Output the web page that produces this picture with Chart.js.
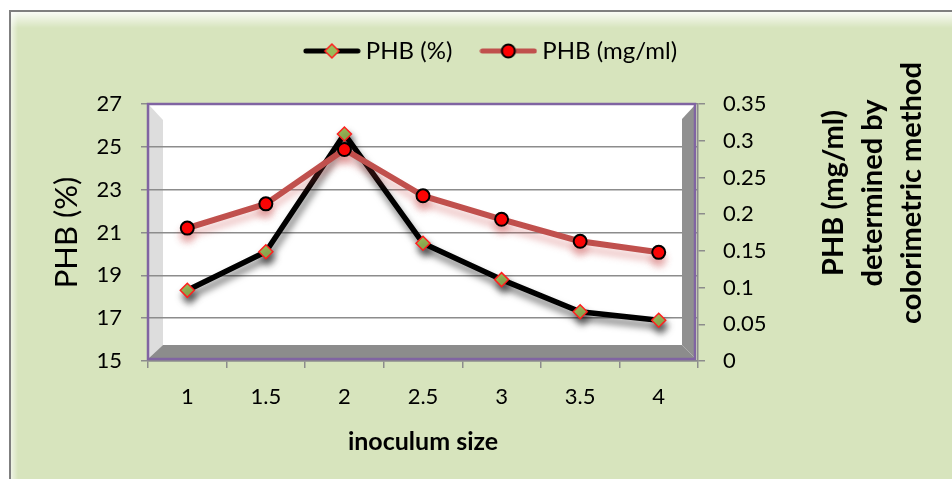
<!DOCTYPE html>
<html><head><meta charset="utf-8">
<script src="https://cdn.jsdelivr.net/npm/chart.js@4/dist/chart.umd.min.js"></script>
<style>html,body{margin:0;padding:0;background:#fff;}#wrap{width:952px;height:479px;}</style>
</head><body><div id="wrap"><canvas id="c" width="952" height="479"></canvas></div>
<script>
const categories = ['1','1.5','2','2.5','3','3.5','4'];
const phbPercent = [18.3, 20.1, 25.6, 20.5, 18.8, 17.3, 16.9];
const phbMgMl = [0.181, 0.214, 0.288, 0.225, 0.193, 0.163, 0.148];
const leftTicks = [15, 17, 19, 21, 23, 25, 27];
const rightTickValues = [0, 0.05, 0.1, 0.15, 0.2, 0.25, 0.3, 0.35];
const rightTickLabels = ['0', '0.05', '0.1', '0.15', '0.2', '0.25', '0.3', '0.35'];
const seriesNames = ['PHB (%)', 'PHB (mg/ml)'];
const xTitle = 'inoculum size';
const leftTitle = 'PHB (%)';
const rightTitle = ['PHB (mg/ml)', 'determined by', 'colorimetric method'];

const GRID = '#8c8c8c';
const FONT = 'Lato';

function legendIcon(kind) {
  const c = document.createElement('canvas');
  c.width = 58; c.height = 20;
  const g = c.getContext('2d');
  g.lineCap = 'round';
  g.lineWidth = 5;
  g.strokeStyle = kind === 0 ? '#000000' : '#C0504D';
  g.beginPath(); g.moveTo(3, 10); g.lineTo(55, 10); g.stroke();
  if (kind === 0) {
    g.beginPath(); g.moveTo(29 - 7, 10); g.lineTo(29, 3); g.lineTo(29 + 7, 10); g.lineTo(29, 17); g.closePath();
    g.fillStyle = '#9BBB59'; g.fill(); g.lineWidth = 1.5; g.strokeStyle = '#FF1F1F'; g.stroke();
  } else {
    g.beginPath(); g.arc(29, 10, 6.5, 0, Math.PI * 2);
    g.fillStyle = '#FF0000'; g.fill(); g.lineWidth = 2; g.strokeStyle = '#000'; g.stroke();
  }
  return c;
}

const shadows = [
  {color: 'rgba(0,0,0,0.55)', blur: 7, dx: 2, dy: 6},
  {color: 'rgba(200,70,70,0.35)', blur: 7, dx: 0, dy: 7}
];

const decorPlugin = {
  id: 'decor',
  beforeDraw(chart) {
    const {ctx, width, height, chartArea: ca} = chart;
    ctx.save();
    ctx.fillStyle = '#ffffff'; ctx.fillRect(0, 0, width, height);
    ctx.fillStyle = '#D7E4BD'; ctx.fillRect(10, 11, width - 10, height - 11);
    const gr = ctx.createLinearGradient(0, 11, 0, 28);
    gr.addColorStop(0, 'rgba(255,255,255,0.9)'); gr.addColorStop(1, 'rgba(255,255,255,0)');
    ctx.fillStyle = gr; ctx.fillRect(10, 11, width - 10, 17);
    const gl = ctx.createLinearGradient(11, 0, 18, 0);
    gl.addColorStop(0, 'rgba(255,255,255,0.6)'); gl.addColorStop(1, 'rgba(255,255,255,0)');
    ctx.fillStyle = gl; ctx.fillRect(11, 11, 7, height - 11);
    ctx.strokeStyle = '#7f7f7f'; ctx.lineWidth = 2;
    ctx.beginPath(); ctx.moveTo(10, height); ctx.lineTo(10, 11); ctx.lineTo(width, 11); ctx.stroke();
    const L = ca.left + 1, T = ca.top + 1, R = ca.right - 3, B = ca.bottom - 3;
    ctx.fillStyle = '#ffffff'; ctx.fillRect(L, T, R - L, B - T);
    ctx.fillStyle = '#DDDDDD';
    ctx.beginPath(); ctx.moveTo(L, T); ctx.lineTo(L + 14, T + 15); ctx.lineTo(L + 14, B - 13); ctx.lineTo(L, B); ctx.closePath(); ctx.fill();
    ctx.restore();
  },
  beforeDatasetsDraw(chart) {
    const {ctx, chartArea: ca} = chart;
    const L = ca.left + 1, T = ca.top + 1, R = ca.right - 3, B = ca.bottom - 3;
    ctx.save();
    ctx.fillStyle = '#8C8C8C';
    ctx.beginPath(); ctx.moveTo(L, B); ctx.lineTo(L + 14, B - 13); ctx.lineTo(R - 13, B - 13); ctx.lineTo(R, B); ctx.closePath(); ctx.fill();
    ctx.fillStyle = '#909090';
    ctx.beginPath(); ctx.moveTo(R, T); ctx.lineTo(R - 13, T + 14); ctx.lineTo(R - 13, B - 13); ctx.lineTo(R, B); ctx.closePath(); ctx.fill();
    ctx.strokeStyle = '#8064A2'; ctx.lineWidth = 2.5;
    ctx.strokeRect(ca.left, ca.top, (ca.right - 3) - ca.left, (ca.bottom - 2) - ca.top);
    ctx.restore();
  },
  beforeDatasetDraw(chart, args) {
    const ctx = chart.ctx; ctx.save();
    const s = shadows[args.index];
    ctx.shadowColor = s.color; ctx.shadowBlur = s.blur; ctx.shadowOffsetX = s.dx; ctx.shadowOffsetY = s.dy;
  },
  afterDatasetDraw(chart) { chart.ctx.restore(); },
  afterDraw(chart) {
    const ctx = chart.ctx;
    ctx.save();
    ctx.font = 'bold 29px ' + FONT;
    ctx.fillStyle = '#000';
    ctx.textAlign = 'center';
    ctx.textBaseline = 'alphabetic';
    const baseX = [843, 882, 921];
    rightTitle.forEach((t, i) => {
      ctx.save(); ctx.translate(baseX[i], 193); ctx.rotate(-Math.PI / 2); ctx.fillText(t, 0, 0); ctx.restore();
    });
    ctx.restore();
  }
};

function build() {
  const icons = [legendIcon(0), legendIcon(1)];
  const baseGen = Chart.defaults.plugins.legend.labels.generateLabels;
  new Chart(document.getElementById('c'), {
    type: 'line',
    data: {
      labels: categories,
      datasets: [
        {label: seriesNames[0], data: phbPercent, yAxisID: 'y', borderColor: '#000000', borderWidth: 5.5,
         pointStyle: 'rectRot', pointRadius: 7, pointHoverRadius: 7, pointBackgroundColor: '#9BBB59',
         pointBorderColor: '#FF1F1F', pointBorderWidth: 1.5, tension: 0, order: 1,
         borderCapStyle: 'round', borderJoinStyle: 'round', fill: false},
        {label: seriesNames[1], data: phbMgMl, yAxisID: 'y2', borderColor: '#C0504D', borderWidth: 6,
         pointStyle: 'circle', pointRadius: 6.5, pointHoverRadius: 6.5, pointBackgroundColor: '#FF0000',
         pointBorderColor: '#000000', pointBorderWidth: 2, tension: 0, order: 0,
         borderCapStyle: 'round', borderJoinStyle: 'round', fill: false}
      ]
    },
    options: {
      responsive: false, animation: false, devicePixelRatio: 1,
      layout: {padding: {left: 35, top: 5, right: 0, bottom: 0}},
      plugins: {
        tooltip: {enabled: false},
        title: {display: true, text: '', weight: 2000, font: {size: 10, lineHeight: 1.2}, padding: {top: 0, bottom: 19}},
        legend: {
          display: true, position: 'top', align: 'center', weight: 3000,
          labels: {
            usePointStyle: true, pointStyleWidth: 44, padding: 34, color: '#000',
            font: {family: FONT, size: 24},
            generateLabels(chart) {
              const items = baseGen(chart);
              items.sort((a, b) => a.datasetIndex - b.datasetIndex);
              items.forEach(it => { it.pointStyle = icons[it.datasetIndex]; it.rotation = 0; });
              return items;
            }
          }
        }
      },
      scales: {
        x: {
          type: 'category', offset: true,
          grid: {offset: true, drawOnChartArea: false, drawTicks: true, tickLength: 7, color: GRID, lineWidth: 1.5},
          border: {display: true, color: GRID, width: 1.5},
          ticks: {font: {family: FONT, size: 22}, color: '#000', padding: 16, maxRotation: 0, autoSkip: false},
          title: {display: true, text: xTitle, color: '#000', font: {family: FONT, size: 25, weight: 'bold'}, padding: {top: 0, bottom: 22}},
          afterFit(s) { s.height = 118; }
        },
        y: {
          position: 'left', min: 15, max: 27,
          afterBuildTicks(s) { s.ticks = leftTicks.map(v => ({value: v})); },
          grid: {color: GRID, lineWidth: 1.5, tickLength: 7},
          border: {display: true, color: GRID, width: 1.5},
          ticks: {font: {family: FONT, size: 22}, color: '#000', padding: 19, callback: (v) => String(v)},
          title: {display: true, text: leftTitle, color: '#000', font: {family: FONT, size: 31}, padding: {top: 13, bottom: 0}},
          afterFit(s) { s.width = 113; }
        },
        y2: {
          position: 'right', min: 0, max: 0.35,
          afterBuildTicks(s) { s.ticks = rightTickValues.map(v => ({value: v})); },
          grid: {drawOnChartArea: false, color: GRID, lineWidth: 1.5, tickLength: 7},
          border: {display: true, color: GRID, width: 1.5},
          ticks: {font: {family: FONT, size: 22}, color: '#000', padding: 18, callback: (v, i) => rightTickLabels[i]},
          afterFit(s) { s.width = 254; }
        }
      }
    },
    plugins: [decorPlugin]
  });
}

if (document.fonts && document.fonts.load) {
  Promise.all([document.fonts.load('22px Lato'), document.fonts.load('bold 22px Lato')]).then(build, build);
} else { build(); }
</script>
</body></html>
